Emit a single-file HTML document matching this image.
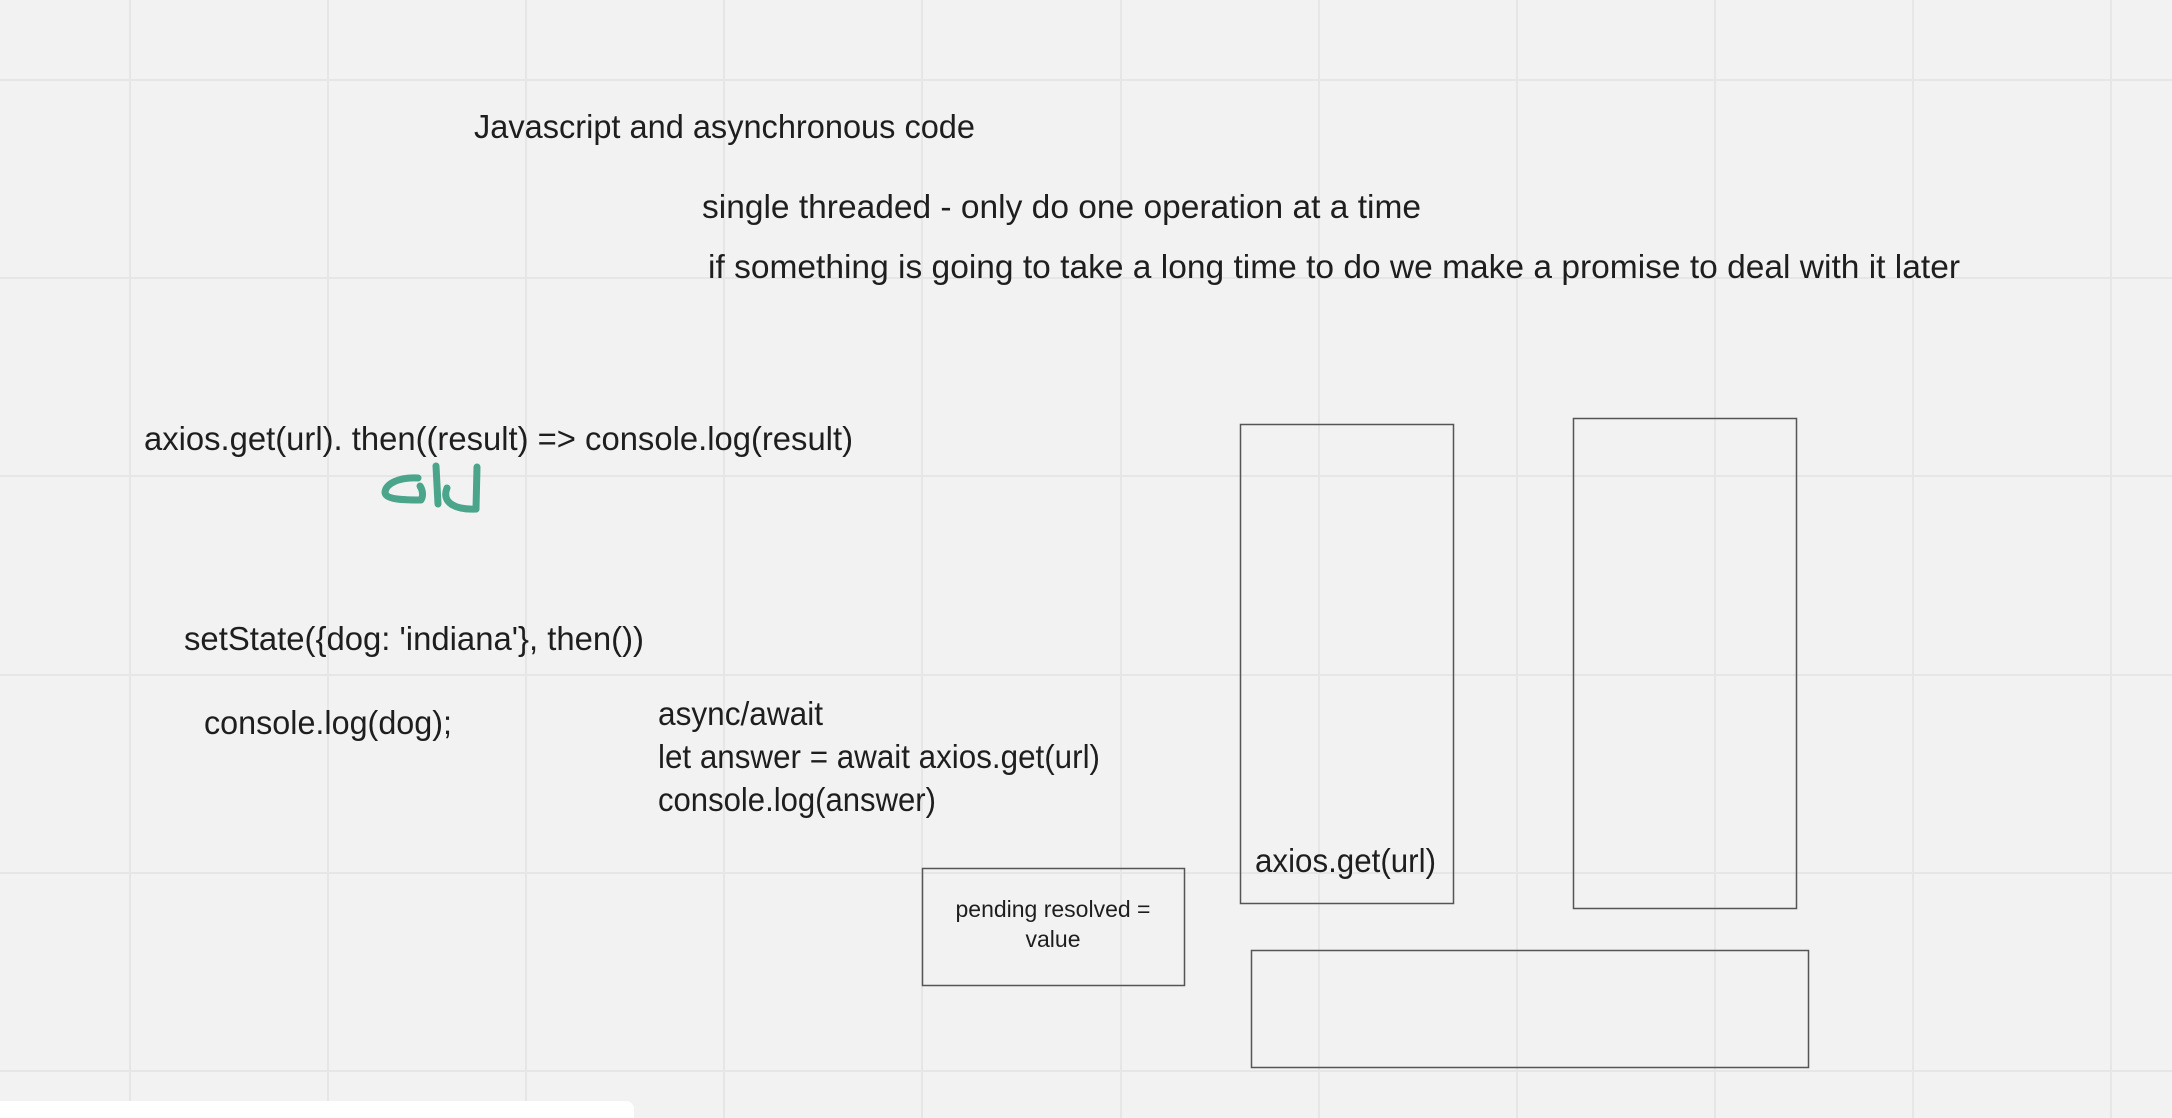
<!DOCTYPE html>
<html><head><meta charset="utf-8"><style>
html,body{margin:0;padding:0;width:2172px;height:1118px;overflow:hidden;background:#f2f2f2}
svg{display:block}
</style></head><body>
<svg width="2172" height="1118" xmlns="http://www.w3.org/2000/svg">
<rect width="2172" height="1118" fill="#f2f2f2"/>
<g stroke="#e6e6e6" stroke-width="2">
<line x1="130" y1="0" x2="130" y2="1118"/><line x1="328" y1="0" x2="328" y2="1118"/>
<line x1="526" y1="0" x2="526" y2="1118"/><line x1="724" y1="0" x2="724" y2="1118"/>
<line x1="922" y1="0" x2="922" y2="1118"/><line x1="1121" y1="0" x2="1121" y2="1118"/>
<line x1="1319" y1="0" x2="1319" y2="1118"/><line x1="1517" y1="0" x2="1517" y2="1118"/>
<line x1="1715" y1="0" x2="1715" y2="1118"/><line x1="1913" y1="0" x2="1913" y2="1118"/>
<line x1="2111" y1="0" x2="2111" y2="1118"/>
<line x1="0" y1="80" x2="2172" y2="80"/><line x1="0" y1="278" x2="2172" y2="278"/>
<line x1="0" y1="476" x2="2172" y2="476"/><line x1="0" y1="675" x2="2172" y2="675"/>
<line x1="0" y1="873" x2="2172" y2="873"/><line x1="0" y1="1071" x2="2172" y2="1071"/>
</g>
<g font-family="Liberation Sans, sans-serif" font-size="33" fill="#1e1e1e">
<text x="474" y="138" textLength="501" lengthAdjust="spacingAndGlyphs">Javascript and asynchronous code</text>
<text x="702" y="218" textLength="719" lengthAdjust="spacingAndGlyphs">single threaded - only do one operation at a time</text>
<text x="708" y="278" textLength="1252" lengthAdjust="spacingAndGlyphs">if something is going to take a long time to do we make a promise to deal with it later</text>
<text x="144" y="450" textLength="709" lengthAdjust="spacingAndGlyphs">axios.get(url). then((result) =&gt; console.log(result)</text>
<text x="184" y="650" textLength="460" lengthAdjust="spacingAndGlyphs">setState({dog: 'indiana'}, then())</text>
<text x="204" y="734" textLength="248" lengthAdjust="spacingAndGlyphs">console.log(dog);</text>
<text x="658" y="725" textLength="165" lengthAdjust="spacingAndGlyphs">async/await</text>
<text x="658" y="768" textLength="442" lengthAdjust="spacingAndGlyphs">let answer = await axios.get(url)</text>
<text x="658" y="811" textLength="278" lengthAdjust="spacingAndGlyphs">console.log(answer)</text>
<text x="1255" y="872" textLength="181" lengthAdjust="spacingAndGlyphs">axios.get(url)</text>
</g>
<g fill="none" stroke="#555" stroke-width="1.5">
<rect x="922.5" y="868.5" width="262" height="117"/>
<rect x="1240.5" y="424.5" width="213" height="479"/>
<rect x="1573.5" y="418.5" width="223" height="490"/>
<rect x="1251.5" y="950.5" width="557" height="117"/>
</g>
<g font-family="Liberation Sans, sans-serif" font-size="23" fill="#1e1e1e" text-anchor="middle">
<text x="1053" y="917">pending resolved =</text>
<text x="1053" y="947">value</text>
</g>
<g fill="none" stroke="#4aa58a" stroke-width="7" stroke-linecap="round" stroke-linejoin="round">
<path d="M418,478 C398,477 386,484 385,492 C385,500 405,500 421,500 C424,495 422,489 420,486"/>
<path d="M436,466 L438,504"/>
<path d="M477,467 L476,509"/>
<path d="M447,488 C441,503 456,510 476,509"/>
</g>
<rect x="-10" y="1101" width="644" height="30" rx="8" fill="#ffffff"/>
</svg>
</body></html>
